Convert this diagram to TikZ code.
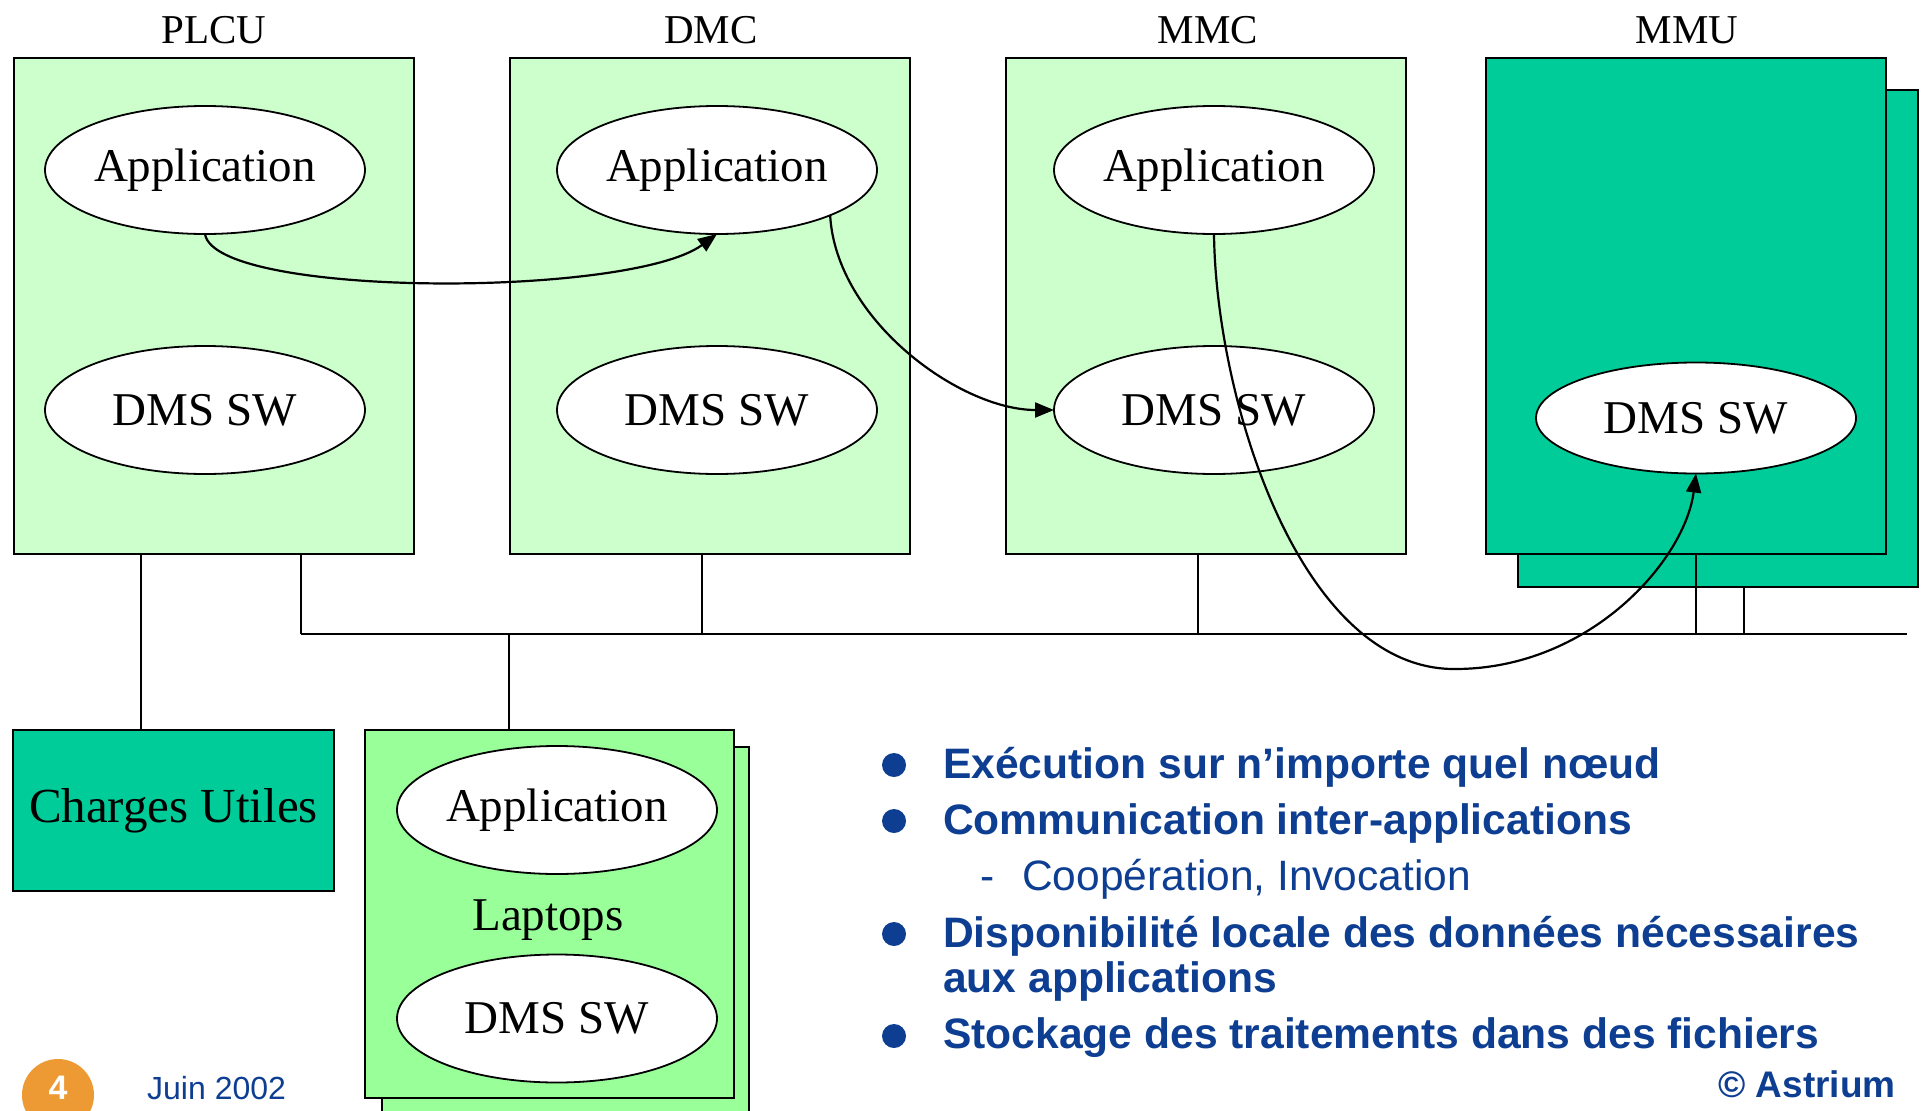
\documentclass[tikz,border=0pt]{standalone}
\usepackage{fontspec}
\setmainfont{Liberation Serif}
\newfontfamily\slidefont{Liberation Sans}
\usetikzlibrary{arrows.meta,shapes.geometric}

\definecolor{paleGreen}{HTML}{CCFFCC}
\definecolor{seaGreen}{HTML}{00CC99}
\definecolor{laptopGreen}{HTML}{99FF99}
\definecolor{slideBlue}{RGB}{14,62,145}
\definecolor{pageOrange}{RGB}{238,154,52}

\begin{document}
\begin{tikzpicture}[x=1pt,y=-1pt,
  unit/.style={draw=black, line width=2pt, rectangle, inner sep=0pt, outer sep=0pt},
  softbox/.style={ellipse, draw=black, fill=white, line width=1.8pt,
    minimum width=320pt, minimum height=128pt, inner sep=0pt, outer sep=0pt,
    font=\fontsize{47}{50}\selectfont},
  unitname/.style={anchor=base, inner sep=0pt, font=\fontsize{41}{44}\selectfont},
  wire/.style={line width=2pt},
  flow/.style={line width=2.2pt, -{Triangle[length=19pt,width=15pt]}},
  point/.style={circle, fill=slideBlue, minimum size=24pt, inner sep=0pt},
  pointtext/.style={anchor=base west, inner sep=0pt, text=slideBlue,
    font=\slidefont\bfseries\fontsize{42.6}{45}\selectfont},
  subtext/.style={anchor=base west, inner sep=0pt, text=slideBlue,
    font=\slidefont\fontsize{42.5}{45}\selectfont},
]
\useasboundingbox (0,0) rectangle (1923,1111);
\clip (0,0) rectangle (1923,1111);

% processing units
\node[unit, fill=paleGreen, minimum width=400pt, minimum height=496pt] (plcu) at (213.5,306) {};
\node[unit, fill=paleGreen, minimum width=400pt, minimum height=496pt] (dmc) at (710,306) {};
\node[unit, fill=paleGreen, minimum width=400pt, minimum height=496pt] (mmc) at (1206,306) {};
\node[unit, fill=seaGreen, minimum width=400pt, minimum height=497pt] (mmuback) at (1718,338.5) {};
\node[unit, fill=seaGreen, minimum width=400pt, minimum height=496pt] (mmu) at (1686,306) {};

\node[unitname] (plcuname) at (214,43) {PLCU};
\node[unitname] (dmcname) at (711,43) {DMC};
\node[unitname] (mmcname) at (1208,43) {MMC};
\node[unitname] (mmuname) at (1687,43) {MMU};

% software inside the units
\node[softbox] (pa) at (205,170) {Application};
\node[softbox] (pd) at (205,410) {DMS SW};
\node[softbox] (da) at (717,170) {Application};
\node[softbox] (dd) at (717,410) {DMS SW};
\node[softbox] (ma) at (1214,170) {Application};
\node[softbox] (md) at (1214,410) {DMS SW};
\node[softbox, minimum height=111pt] (ud) at (1696,418) {DMS SW};

% payloads and laptops
\node[unit, fill=seaGreen, minimum width=321pt, minimum height=161pt,
  font=\fontsize{49}{53}\selectfont] (cu) at (173.5,810.5) {Charges Utiles};
\node[unit, fill=laptopGreen, minimum width=367pt, minimum height=380pt] (lapback) at (565.5,937) {};
\node[unit, fill=laptopGreen, minimum width=369pt, minimum height=368pt] (lap) at (549.5,914) {};
\node[anchor=base, inner sep=0pt, font=\fontsize{47}{50}\selectfont] (lapname) at (548,930) {Laptops};
\node[softbox] (la) at (557,810) {Application};
\node[softbox] (ld) at (557,1018.5) {DMS SW};

% data bus and taps
\coordinate (busL) at (301,634);
\coordinate (busR) at (1907,634);
\coordinate (tapCU) at (141,634);
\coordinate (tapD) at (702,634);
\coordinate (tapM) at (1198,634);
\coordinate (tapU) at (1696,634);
\coordinate (tapUb) at (1744,634);
\coordinate (tapL) at (509,634);

\draw[wire] (busL) -- (busR);
\draw[wire] (tapCU |- plcu.south) -- (tapCU |- cu.north);
\draw[wire] (busL |- plcu.south) -- (busL);
\draw[wire] (tapD |- dmc.south) -- (tapD);
\draw[wire] (tapM |- mmc.south) -- (tapM);
\draw[wire] (tapU |- mmu.south) -- (tapU);
\draw[wire] (tapUb |- mmuback.south) -- (tapUb);
\draw[wire] (tapL) -- (tapL |- lap.north);

% inter-application communication
\coordinate (dip) at (1455,669);
\draw[flow] (pa.south) .. controls (215,298) and (630,298) .. (da.south);
\draw[flow] (da.south east) .. controls (836,320) and (960,410) .. (md.west);
\draw[flow] (ma.south) .. controls (1216,400) and (1300,670) .. (dip)
  .. controls (1590,669) and (1685,560) .. (ud.south);

% key points
\node[point] (b1) at (894,765) {};
\node[point] (b2) at (894,821) {};
\node[point] (b3) at (894,934) {};
\node[point] (b4) at (894,1036) {};
\node[pointtext] (p1) at (943,778) {Exécution sur n’importe quel nœud};
\node[pointtext] (p2) at (943,834) {Communication inter-applications};
\node[subtext] (s0) at (980,890) {-};
\node[subtext] (s1) at (1022,890) {Coopération, Invocation};
\node[pointtext] (p3) at (943,947) {Disponibilité locale des données nécessaires};
\node[pointtext] (p3b) at (943,992) {aux applications};
\node[pointtext] (p4) at (943,1048) {Stockage des traitements dans des fichiers};

% footer
\node[circle, fill=pageOrange, minimum size=72pt, inner sep=0pt] (pg) at (58,1095) {};
\node[anchor=base, inner sep=0pt, text=white, font=\slidefont\bfseries\fontsize{34}{36}\selectfont] (pgnum) at (58,1099) {4};
\node[anchor=base west, inner sep=0pt, text=slideBlue, font=\slidefont\fontsize{32}{34}\selectfont] (date) at (147,1099) {Juin 2002};
\node[anchor=base east, inner sep=0pt, text=slideBlue, font=\slidefont\bfseries\fontsize{37}{40}\selectfont] (copy) at (1896,1097) {© Astrium};
\end{tikzpicture}
\end{document}
